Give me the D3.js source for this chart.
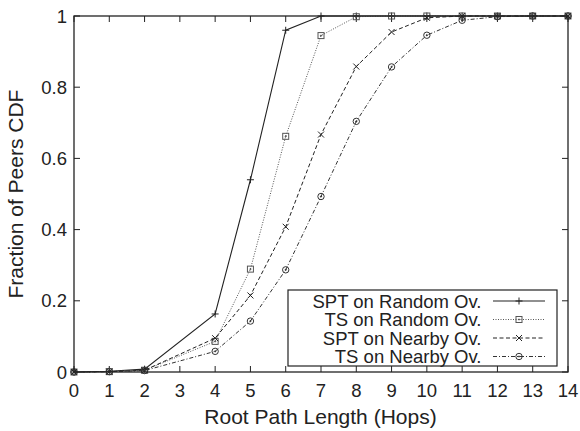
<!DOCTYPE html>
<html><head><meta charset="utf-8">
<script src="https://cdn.jsdelivr.net/npm/d3@7"></script>
<style>body{margin:0;background:#fff}svg{display:block}text{font-family:"Liberation Sans",Arial,sans-serif;fill:#222}</style>
</head><body><svg id="c" width="580" height="431"></svg>
<script>
const hops = [0,1,2,4,5,6,7,8,9,10,11,12,13,14];
const sptRandom = [0,0.002,0.008,0.163,0.54,0.96,1,1,1,1,1,1,1,1];
const tsRandom = [0,0.001,0.005,0.086,0.289,0.662,0.945,0.998,1,1,1,1,1,1];
const sptNearby = [0,0.001,0.005,0.095,0.215,0.408,0.667,0.858,0.955,0.995,1,1,1,1];
const tsNearby = [0,0.001,0.004,0.058,0.143,0.287,0.493,0.704,0.857,0.946,0.988,0.998,1,1];
const seriesNames = ["SPT on Random Ov.","TS on Random Ov.","SPT on Nearby Ov.","TS on Nearby Ov."];
const xTicks = d3.range(0,15);
const yTicks = [0,0.2,0.4,0.6,0.8,1];

const svg = d3.select("#c");
const L=74,R=568,T=16,B=372;
const x = d3.scaleLinear().domain([0,14]).range([L,R]);
const y = d3.scaleLinear().domain([0,1]).range([B,T]);
const ink="#222";

const tl=6;
const g=svg.append("g").attr("stroke",ink).attr("stroke-width",1);
xTicks.forEach(t=>{
  g.append("line").attr("x1",x(t)).attr("x2",x(t)).attr("y1",B).attr("y2",B-tl);
  g.append("line").attr("x1",x(t)).attr("x2",x(t)).attr("y1",T).attr("y2",T+tl);
});
yTicks.forEach(t=>{
  g.append("line").attr("x1",L).attr("x2",L+tl).attr("y1",y(t)).attr("y2",y(t));
  g.append("line").attr("x1",R).attr("x2",R-tl).attr("y1",y(t)).attr("y2",y(t));
});
svg.selectAll(".xt").data(xTicks).enter().append("text").attr("x",d=>x(d)).attr("y",397)
  .attr("text-anchor","middle").attr("font-size",18.5).text(d=>d);
svg.selectAll(".yt").data(yTicks).enter().append("text").attr("x",L-7).attr("y",d=>y(d)+6.5)
  .attr("text-anchor","end").attr("font-size",18.5).text(d=>d);
svg.append("text").attr("x",320.5).attr("y",424).attr("text-anchor","middle").attr("font-size",21).text("Root Path Length (Hops)");
svg.append("text").attr("transform",`translate(23,194) rotate(-90)`).attr("text-anchor","middle").attr("font-size",21).text("Fraction of Peers CDF");

const styles=[
  {data:sptRandom,dash:null,color:"#222",w:1.1,m:"plus"},
  {data:tsRandom,dash:"1,1.5",color:"#555",w:1,m:"square"},
  {data:sptNearby,dash:"4,2.5",color:"#222",w:1,m:"cross"},
  {data:tsNearby,dash:"4,2,1,2",color:"#333",w:1,m:"circle"}
];
function marker(sel,type,cx,cy,col){
  const gm=sel.append("g").attr("stroke",col).attr("fill","none").attr("stroke-width",1);
  if(type==="plus"){
    gm.append("line").attr("x1",cx-3.5).attr("x2",cx+3.5).attr("y1",cy).attr("y2",cy);
    gm.append("line").attr("x1",cx).attr("x2",cx).attr("y1",cy-3.5).attr("y2",cy+3.5);
  } else if(type==="square"){
    gm.append("rect").attr("x",cx-3).attr("y",cy-3).attr("width",6).attr("height",6);
    gm.append("circle").attr("cx",cx).attr("cy",cy).attr("r",0.6).attr("fill",col);
  } else if(type==="cross"){
    gm.append("line").attr("x1",cx-3).attr("x2",cx+3).attr("y1",cy-3).attr("y2",cy+3);
    gm.append("line").attr("x1",cx-3).attr("x2",cx+3).attr("y1",cy+3).attr("y2",cy-3);
  } else {
    gm.append("circle").attr("cx",cx).attr("cy",cy).attr("r",3.2);
    gm.append("circle").attr("cx",cx).attr("cy",cy).attr("r",0.6).attr("fill",col);
  }
}
const line=d3.line().x((d,i)=>x(hops[i])).y(d=>y(d));
styles.forEach(s=>{
  const p=svg.append("path").datum(s.data).attr("d",line).attr("fill","none")
    .attr("stroke",s.color).attr("stroke-width",s.w);
  if(s.dash) p.attr("stroke-dasharray",s.dash);
  s.data.forEach((v,i)=>marker(svg,s.m,x(hops[i]),y(v),s.color));
});

svg.append("rect").attr("x",L).attr("y",T).attr("width",R-L).attr("height",B-T)
  .attr("fill","none").attr("stroke",ink).attr("stroke-width",1.3);

const lg=svg.append("g");
lg.append("rect").attr("x",288).attr("y",290).attr("width",269).attr("height",76).attr("fill","#fff").attr("stroke",ink).attr("stroke-width",1.2);
styles.forEach((s,i)=>{
  const yy=301+i*18.5;
  lg.append("text").attr("x",481.5).attr("y",yy+6.5).attr("text-anchor","end").attr("font-size",18.5).text(seriesNames[i]);
  const l=lg.append("line").attr("x1",493).attr("x2",545).attr("y1",yy).attr("y2",yy).attr("stroke",s.color).attr("stroke-width",s.w);
  if(s.dash) l.attr("stroke-dasharray",s.dash);
  marker(lg,s.m,519,yy,s.color);
});
</script></body></html>
